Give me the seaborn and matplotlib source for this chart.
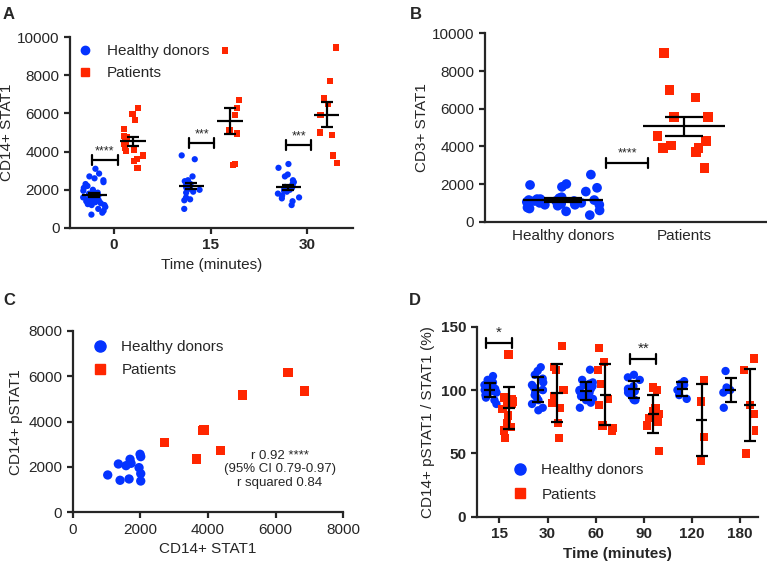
import numpy as np
import pandas as pd
import matplotlib
matplotlib.use('Agg')
import matplotlib.pyplot as plt
import seaborn as sns
from matplotlib.lines import Line2D

np.random.seed(3)

# %%
groups = ['Healthy donors', 'Patients']
blue = '#0433ff'
red = '#ff2600'

# panel A: CD14+ STAT1 over time
a_times = ['0', '15', '30']
a_hd_0 = [3100, 2850, 2700, 2600, 2500, 2400, 2300, 2200, 2100, 2000, 1950, 1900,
          1850, 1800, 1700, 1650, 1600, 1600, 1550, 1500, 1500, 1450, 1400, 1400,
          1350, 1300, 1300, 1250, 1200, 1200, 1100, 1000, 900, 800, 700]
a_pt_0 = [6300, 5950, 5650, 5200, 4800, 4750, 4500, 4400, 4200, 4100, 4050, 3800,
          3600, 3500, 3150]
a_hd_15 = [3800, 3600, 2700, 2500, 2450, 2350, 2300, 2200, 2100, 2050, 2000, 1900,
           1850, 1600, 1500, 1450, 1000]
a_pt_15 = [9300, 6700, 6300, 5900, 5100, 4950, 3350, 3300]
a_hd_30 = [3350, 3150, 2800, 2700, 2500, 2400, 2300, 2200, 2150, 2100, 2050, 2000,
           1950, 1900, 1800, 1700, 1600, 1550, 1400, 1200]
a_pt_30 = [9450, 7700, 6800, 6500, 5900, 5000, 4850, 3800, 3400]
a_stars = ['****', '***', '***']
a_bracket_y = [3560, 4430, 4340]

# panel B: CD3+ STAT1
b_hd = [2500, 2000, 1950, 1850, 1800, 1600, 1300, 1250, 1200, 1200, 1150, 1150,
        1100, 1100, 1100, 1050, 1000, 1000, 950, 950, 900, 900, 900, 850, 800,
        750, 700, 600, 550, 350]
b_pt = [8950, 7000, 6600, 5550, 5550, 4550, 4300, 4050, 3900, 3900, 3700, 2850]

# panel C: CD14+ STAT1 vs CD14+ pSTAT1
c_hd_x = [1035, 1400, 1666, 1350, 1577, 1695, 1725, 1991, 2011, 1961, 2011, 2011]
c_hd_y = [1646, 1412, 1470, 2131, 2057, 2339, 2162, 2560, 2455, 1970, 1705, 1380]
c_pt_x = [2711, 3669, 3885, 3840, 4379, 5018, 6361, 6852]
c_pt_y = [3089, 2352, 3632, 3600, 2736, 5177, 6161, 5353]

# panel D: pSTAT1 / STAT1 (%)
d_times = ['15', '30', '60', '90', '120', '180']
d_hd_15 = [111, 108, 106, 104, 103, 102, 101, 100, 100, 99, 98, 97, 96, 94, 92, 89]
d_pt_15 = [128, 94, 93, 91, 90, 89, 88, 85, 80, 74, 71, 68, 62]
d_hd_30 = [118, 115, 112, 109, 106, 104, 102, 100, 100, 98, 96, 94, 92, 89, 86, 84]
d_pt_30 = [135, 118, 116, 100, 95, 90, 86, 74, 62]
d_hd_60 = [116, 108, 106, 105, 104, 103, 102, 101, 100, 99, 98, 97, 96, 95, 93, 92, 90, 86]
d_pt_60 = [133, 122, 116, 105, 93, 88, 72, 70, 68]
d_hd_90 = [112, 110, 108, 103, 101, 100, 99, 98, 97, 93, 92, 92]
d_pt_90 = [102, 100, 86, 83, 81, 78, 75, 72, 52]
d_hd_120 = [107, 105, 104, 100, 96, 93]
d_pt_120 = [108, 91, 63, 44]
d_hd_180 = [115, 102, 100, 100, 98, 86]
d_pt_180 = [125, 116, 88, 81, 68, 50]
d_stars = ['*', '**']
d_star_pos = [0, 3]
d_bracket_y = [137, 124.5]


# %%
def long_df(cats, hd, pt):
    rows = []
    for c, h, p in zip(cats, hd, pt):
        rows += [(c, groups[0], v) for v in h]
        rows += [(c, groups[1], v) for v in p]
    return pd.DataFrame(rows, columns=['x', 'group', 'y'])


def dots(ax, df, order, size, jitters, dodge=True):
    pal = {groups[0]: blue, groups[1]: red}
    for g, m, j in zip(groups, ['o', 's'], jitters):
        sns.stripplot(data=df[df.group == g], x='x', y='y', hue='group', hue_order=groups,
                      order=order, palette=pal, dodge=dodge, jitter=j, marker=m,
                      size=size, linewidth=0, legend=False, ax=ax, zorder=3)


def mean_err(ax, vals, xpos, half, cap, kind='sem'):
    m = np.mean(vals)
    e = np.std(vals, ddof=1)
    if kind == 'sem':
        e = e / np.sqrt(len(vals))
    ax.hlines(m, xpos - half, xpos + half, color='k', lw=1.6, zorder=5)
    ax.errorbar(xpos, m, yerr=e, fmt='none', ecolor='k', elinewidth=1.6,
                capsize=cap, capthick=1.6, zorder=5)


def bracket(ax, x0, x1, y, dy, label, fs=9):
    ax.plot([x0, x1], [y, y], color='k', lw=1.6, zorder=6)
    ax.plot([x0, x0], [y - dy, y + dy], color='k', lw=1.6, zorder=6)
    ax.plot([x1, x1], [y - dy, y + dy], color='k', lw=1.6, zorder=6)
    ax.text((x0 + x1) / 2, y + dy * 0.6, label, ha='center', va='bottom', fontsize=fs)


def legend(ax, x, y, ms, spacing):
    handles = [Line2D([], [], marker='o', color=blue, ls='none', markersize=ms),
               Line2D([], [], marker='s', color=red, ls='none', markersize=ms * 0.9)]
    ax.legend(handles, groups, loc='upper left', bbox_to_anchor=(x, y), frameon=False,
              fontsize=11, handlelength=1, handletextpad=0.9, borderpad=0,
              borderaxespad=0, labelspacing=spacing)


def style(ax):
    sns.despine(ax=ax)
    for s in ['left', 'bottom']:
        ax.spines[s].set_linewidth(1.6)
    ax.tick_params(width=1.6, length=4, labelsize=11, direction='out')


# %%
sns.set_style('ticks')
plt.rcParams['font.family'] = ['Liberation Sans', 'DejaVu Sans']

fig = plt.figure(figsize=(7.67, 5.65), dpi=100)
axA = fig.add_axes([0.0913, 0.5965, 0.369, 0.338])
axB = fig.add_axes([0.632, 0.6076, 0.367, 0.3334])
axC = fig.add_axes([0.0948, 0.0933, 0.3528, 0.3209])
axD = fig.add_axes([0.6215, 0.0855, 0.3668, 0.3363])

# A
dfA = long_df(a_times, [a_hd_0, a_hd_15, a_hd_30], [a_pt_0, a_pt_15, a_pt_30])
dots(axA, dfA, a_times, 4.5, [0.24, 0.22])
for i, (h, p) in enumerate(zip([a_hd_0, a_hd_15, a_hd_30], [a_pt_0, a_pt_15, a_pt_30])):
    mean_err(axA, h, i - 0.2, 0.13, 4.3)
    mean_err(axA, p, i + 0.2, 0.13, 4.3)
    bracket(axA, i - 0.22, i + 0.04, a_bracket_y[i], 260, a_stars[i])
axA.set_xlim(-0.45, 2.47)
axA.set_ylim(0, 10000)
axA.set_yticks(range(0, 10001, 2000))
axA.set_xlabel('Time (minutes)', fontsize=11)
axA.set_ylabel('CD14+ STAT1', fontsize=11, labelpad=2)
style(axA)
for t in axA.get_xticklabels():
    t.set_fontweight('bold')
legend(axA, 0.027, 0.963, 6, 0.55)

# B
dfB = pd.DataFrame({'x': [groups[0]] * len(b_hd) + [groups[1]] * len(b_pt),
                    'group': [groups[0]] * len(b_hd) + [groups[1]] * len(b_pt),
                    'y': b_hd + b_pt})
dots(axB, dfB, groups, 7, [0.33, 0.25], dodge=False)
mean_err(axB, b_hd, 0, 0.33, 14)
mean_err(axB, b_pt, 1, 0.34, 14)
bracket(axB, 0.36, 0.70, 3130, 265, '****')
axB.set_xlim(-0.645, 1.68)
axB.set_ylim(0, 10000)
axB.set_yticks(range(0, 10001, 2000))
axB.set_xlabel('')
axB.set_ylabel('CD3+ STAT1', fontsize=11, labelpad=2)
style(axB)
axB.tick_params(axis='x', length=0, pad=5)

# C
dfC = pd.DataFrame({'sx': c_hd_x + c_pt_x, 'sy': c_hd_y + c_pt_y,
                    'group': [groups[0]] * len(c_hd_x) + [groups[1]] * len(c_pt_x)})
sns.scatterplot(data=dfC, x='sx', y='sy', hue='group', style='group',
                markers={groups[0]: 'o', groups[1]: 's'},
                palette={groups[0]: blue, groups[1]: red}, s=45, linewidth=0,
                legend=False, ax=axC)
axC.set_xlim(0, 8000)
axC.set_ylim(0, 8000)
axC.set_xticks(range(0, 8001, 2000))
axC.set_yticks(range(0, 8001, 2000))
axC.set_xlabel('CD14+ STAT1', fontsize=11)
axC.set_ylabel('CD14+ pSTAT1', fontsize=11)
axC.text(6130, 1900, 'r 0.92 ****\n(95% CI 0.79-0.97)\nr squared 0.84',
         ha='center', va='center', fontsize=9.5, linespacing=1.15)
style(axC)
legend(axC, 0.073, 0.95, 8, 0.6)

# D
d_hd = [d_hd_15, d_hd_30, d_hd_60, d_hd_90, d_hd_120, d_hd_180]
d_pt = [d_pt_15, d_pt_30, d_pt_60, d_pt_90, d_pt_120, d_pt_180]
dfD = long_df(d_times, d_hd, d_pt)
dots(axD, dfD, d_times, 6, [0.3, 0.3])
for i, (h, p) in enumerate(zip(d_hd, d_pt)):
    mean_err(axD, h, i - 0.2, 0.12, 4, kind='sd')
    mean_err(axD, p, i + 0.2, 0.12, 4, kind='sd')
for k, i in enumerate(d_star_pos):
    bracket(axD, i - 0.28, i + 0.26, d_bracket_y[k], 4, d_stars[k], fs=11)
axD.set_xlim(-0.47, 5.37)
axD.set_ylim(0, 150)
axD.set_yticks([0, 50, 100, 150])
axD.set_xlabel('Time (minutes)', fontsize=11, fontweight='bold')
axD.set_ylabel('CD14+ pSTAT1 / STAT1 (%)', fontsize=11)
style(axD)
for t in axD.get_xticklabels() + axD.get_yticklabels():
    t.set_fontweight('bold')
legend(axD, 0.127, 0.283, 8, 0.7)

for lbl, x, y in [('A', 0.004, 0.975), ('B', 0.534, 0.975), ('C', 0.004, 0.469), ('D', 0.533, 0.469)]:
    fig.text(x, y, lbl, fontsize=12, fontweight='bold', va='center')

fig.savefig('out.png', dpi=100)
